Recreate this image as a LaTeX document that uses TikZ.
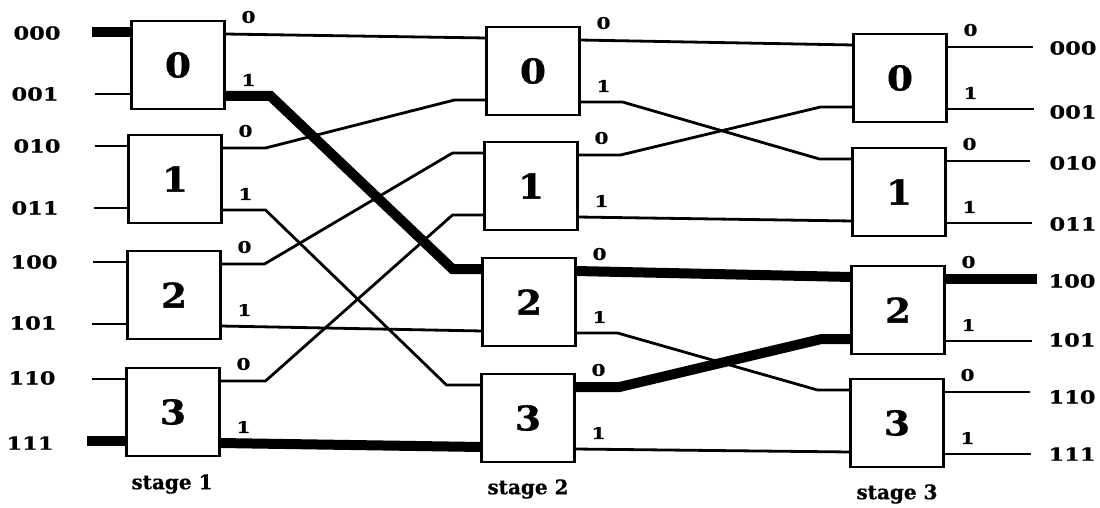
\documentclass[tikz,border=0pt]{standalone}
\usepackage{fontspec}
\setmainfont{DejaVu Serif}
\newfontfamily\widefont{DejaVu Serif}[FakeStretch=1.25,FakeBold=0.8]
\newfontfamily\heavyfont{DejaVu Serif}[FakeStretch=1.1,FakeBold=1]
\newfontfamily\stagefont{DejaVu Serif}[FakeBold=0.6]
\tikzset{
  swbox/.style={draw, line width=2.8pt, minimum width=93pt, minimum height=88pt, inner sep=0pt, outer sep=0pt, font=\heavyfont\fontsize{34}{34}\selectfont\bfseries},
  plabel/.style={inner sep=0pt, font=\widefont\fontsize{16}{16}\selectfont\bfseries},
  addr/.style={inner sep=0pt, font=\widefont\fontsize{18}{18}\selectfont\bfseries},
  stagelbl/.style={inner sep=0pt, font=\stagefont\fontsize{20}{20}\selectfont\bfseries},
  wire/.style={line width=2.8pt},
  hot/.style={line width=10pt, line join=miter},
}
\newcommand\swnode[4]{%
  \node[swbox] (#1) at (#2,#3) {#4};
  \path (#1.west) ++(0,-33) coordinate (#1-i0);
  \path (#1.west) ++(0,29) coordinate (#1-i1);
  \path (#1.east) ++(0,-31) coordinate (#1-o0);
  \path (#1.east) ++(0,31) coordinate (#1-o1);
  \node[plabel] (#1-l0) at ([shift={(24,-17)}]#1-o0) {0};
  \node[plabel] (#1-l1) at ([shift={(24,-16)}]#1-o1) {1};
}
\begin{document}
\begin{tikzpicture}[x=1pt,y=-1pt]
\useasboundingbox (0,0) rectangle (1100,508);
% stage 1
\swnode{a0}{178}{65}{0}
\swnode{a1}{175}{179}{1}
\swnode{a2}{174}{295}{2}
\swnode{a3}{173}{412}{3}
% stage 2
\swnode{b0}{533}{71}{0}
\swnode{b1}{531}{186}{1}
\swnode{b2}{529}{302}{2}
\swnode{b3}{528}{418}{3}
% stage 3
\swnode{c0}{900}{78}{0}
\swnode{c1}{899}{192}{1}
\swnode{c2}{898}{310}{2}
\swnode{c3}{897}{423}{3}
% stage labels
\node[stagelbl] (st1) at (172,484) {stage 1};
\node[stagelbl] (st2) at (528,489) {stage 2};
\node[stagelbl] (st3) at (897,494) {stage 3};
% input labels and free ends
\node[addr] (in000) at (37,33) {000};
\node[addr] (in001) at (35,94) {001};
\node[addr] (in010) at (37,146) {010};
\node[addr] (in011) at (35,208) {011};
\node[addr] (in100) at (34,262) {100};
\node[addr] (in101) at (33,323) {101};
\node[addr] (in110) at (32,378) {110};
\node[addr] (in111) at (30,443) {111};
\path (a0-i0 -| 92,0) coordinate (e000);
\path (a0-i1 -| 95,0) coordinate (e001);
\path (a1-i0 -| 95,0) coordinate (e010);
\path (a1-i1 -| 94,0) coordinate (e011);
\path (a2-i0 -| 93,0) coordinate (e100);
\path (a2-i1 -| 92,0) coordinate (e101);
\path (a3-i0 -| 92,0) coordinate (e110);
\path (a3-i1 -| 87,0) coordinate (e111);
\draw[hot] (e000) -- (a0-i0);
\draw[wire] (e001) -- (a0-i1);
\draw[wire] (e010) -- (a1-i0);
\draw[wire] (e011) -- (a1-i1);
\draw[wire] (e100) -- (a2-i0);
\draw[wire] (e101) -- (a2-i1);
\draw[wire] (e110) -- (a3-i0);
\draw[hot] (e111) -- (a3-i1);
% stage 1 -> stage 2
\draw[wire] (a0-o0) -- (b0-i0);
\draw[wire] (a1-o0) -- ++(44,0) -- ([xshift=-32pt]b0-i1) -- (b0-i1);
\draw[wire] (a1-o1) -- ++(44,0) -- ([xshift=-35pt]b3-i0) -- (b3-i0);
\draw[wire] (a2-o0) -- ++(44,0) -- ([xshift=-32pt]b1-i0) -- (b1-i0);
\draw[wire] (a2-o1) -- (b2-i1);
\draw[wire] (a3-o0) -- ++(46,0) -- ([xshift=-32pt]b1-i1) -- (b1-i1);
\draw[hot] (a0-o1) -- ++(46,0) -- ([xshift=-30pt]b2-i0) -- (b2-i0);
\draw[hot] (a3-o1) -- (b3-i1);
% stage 2 -> stage 3
\draw[wire] (b0-o0) -- (c0-i0);
\draw[wire] (b0-o1) -- ++(43,0) -- ([xshift=-33pt]c1-i0) -- (c1-i0);
\draw[wire] (b1-o0) -- ++(43,0) -- ([xshift=-33pt]c0-i1) -- (c0-i1);
\draw[wire] (b1-o1) -- (c1-i1);
\draw[wire] (b2-o1) -- ++(42,0) -- ([xshift=-33pt]c3-i0) -- (c3-i0);
\draw[wire] (b3-o1) -- (c3-i1);
\draw[hot] (b2-o0) -- (c2-i0);
\draw[hot] (b3-o0) -- ++(45,0) -- ([xshift=-30pt]c2-i1) -- (c2-i1);
% outputs
\path (c0-o0 -| 1033,0) coordinate (f000);
\path (c0-o1 -| 1034,0) coordinate (f001);
\path (c1-o0 -| 1030,0) coordinate (f010);
\path (c1-o1 -| 1032,0) coordinate (f011);
\path (c2-o0 -| 1037,0) coordinate (f100);
\path (c2-o1 -| 1032,0) coordinate (f101);
\path (c3-o0 -| 1030,0) coordinate (f110);
\path (c3-o1 -| 1031,0) coordinate (f111);
\draw[wire] (c0-o0) -- (f000);
\draw[wire] (c0-o1) -- (f001);
\draw[wire] (c1-o0) -- (f010);
\draw[wire] (c1-o1) -- (f011);
\draw[hot] (c2-o0) -- (f100);
\draw[wire] (c2-o1) -- (f101);
\draw[wire] (c3-o0) -- (f110);
\draw[wire] (c3-o1) -- (f111);
\node[addr] (out000) at (1073,48) {000};
\node[addr] (out001) at (1073,112) {001};
\node[addr] (out010) at (1073,163) {010};
\node[addr] (out011) at (1073,224) {011};
\node[addr] (out100) at (1072,281) {100};
\node[addr] (out101) at (1072,340) {101};
\node[addr] (out110) at (1072,397) {110};
\node[addr] (out111) at (1072,454) {111};
\end{tikzpicture}
\end{document}
